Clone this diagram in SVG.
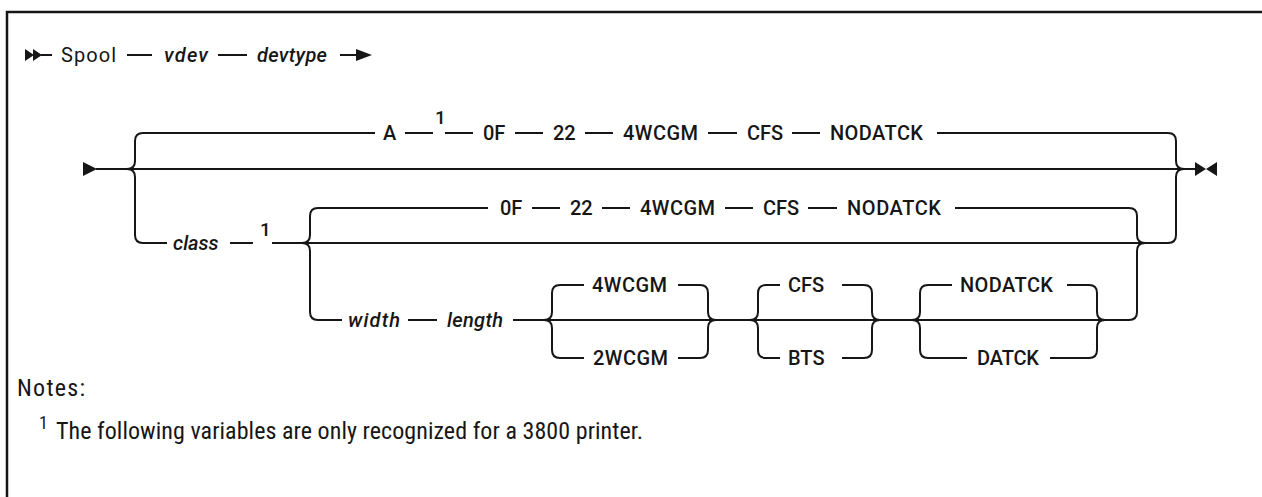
<svg xmlns="http://www.w3.org/2000/svg" width="1262" height="497" viewBox="0 0 1262 497">
<style>
.t{font-family:Roboto,"Liberation Sans",sans-serif;font-size:20px;font-weight:500;fill:#161616}
.i{font-style:italic}
.s{font-family:Roboto,"Liberation Sans",sans-serif;font-size:19px;font-weight:500;fill:#161616}
.n{font-family:"Liberation Sans Narrow","Roboto Condensed","Liberation Sans",sans-serif;font-size:24px;fill:#161616}
.ns{font-family:"Liberation Sans Narrow","Roboto Condensed","Liberation Sans",sans-serif;font-size:18px;fill:#161616}
.l{fill:none;stroke:#161616;stroke-width:2}
.a{fill:#161616}
</style>
<rect width="1262" height="497" fill="#fff"/>
<path d="M7 497 V12 H1262" fill="none" stroke="#161616" stroke-width="2.5"/>
<g id="connectors">
<path class="a" d="M25 49 L34 55 L25 61 Z M33 49 L42 55 L33 61 Z"/>
<path class="l" d="M41 55 H52 M127 55 H152 M218 55 H247 M340 55 H358"/>
<path class="a" d="M356 49 L372 55 L356 61 Z"/>
<path class="a" d="M83 162 L97 169 L83 176 Z"/>
<path class="l" d="M96 169 H1196"/>
<path class="a" d="M1195 162 L1206 169 L1195 176 Z M1217 162 L1206 169 L1217 176 Z"/>
<path class="l" d="M127 169 Q135 169 135 161 V141 Q135 133 143 133 H375 M405 133 H433 M445 133 H473 M515 133 H543 M585 133 H613 M708 133 H737 M792 133 H820 M937 133 H1168 Q1176 133 1176 141 V161 Q1176 169 1184 169"/>
<path class="l" d="M127 169 Q135 169 135 177 V235 Q135 243 143 243 H167 M230 243 H253 M272 243 H1168 Q1176 243 1176 235 V177 Q1176 169 1184 169"/>
<path class="l" d="M302 243 Q310 243 310 235 V216 Q310 208 318 208 H488 M532 208 H560 M602 208 H630 M725 208 H753 M808 208 H837 M955 208 H1129 Q1137 208 1137 216 V235 Q1137 243 1145 243"/>
<path class="l" d="M302 243 Q310 243 310 251 V312 Q310 320 318 320 H342 M408 320 H437 M513 320 H1129 Q1137 320 1137 312 V251 Q1137 243 1145 243"/>
<path class="l" d="M544 320 Q552 320 552 312 V293 Q552 285 560 285 H584 M678 285 H700 Q708 285 708 293 V312 Q708 320 716 320"/>
<path class="l" d="M544 320 Q552 320 552 328 V350 Q552 358 560 358 H584 M678 358 H700 Q708 358 708 350 V328 Q708 320 716 320"/>
<path class="l" d="M750 320 Q758 320 758 312 V293 Q758 285 766 285 H780 M842 285 H864 Q872 285 872 293 V312 Q872 320 880 320"/>
<path class="l" d="M750 320 Q758 320 758 328 V350 Q758 358 766 358 H780 M842 358 H864 Q872 358 872 350 V328 Q872 320 880 320"/>
<path class="l" d="M912 320 Q920 320 920 312 V293 Q920 285 928 285 H952 M1067 285 H1089 Q1097 285 1097 293 V312 Q1097 320 1105 320"/>
<path class="l" d="M912 320 Q920 320 920 328 V350 Q920 358 928 358 H967 M1050 358 H1089 Q1097 358 1097 350 V328 Q1097 320 1105 320"/>
</g>
<g id="line1">
<text class="t" x="61" y="62" textLength="55" style="font-weight:400">Spool</text>
<text class="t i" x="164" y="62" textLength="44">vdev</text>
<text class="t i" x="257" y="62" textLength="70">devtype</text>
</g>
<g id="row-a">
<text class="t" x="383" y="140">A</text>
<text class="s" x="435" y="124">1</text>
<text class="t" x="483" y="140">0F</text>
<text class="t" x="553" y="140">22</text>
<text class="t" x="623" y="140" textLength="75">4WCGM</text>
<text class="t" x="747" y="140">CFS</text>
<text class="t" x="830" y="140" textLength="93">NODATCK</text>
</g>
<g id="row-class">
<text class="t i" x="173" y="250">class</text>
<text class="s" x="260" y="236">1</text>
</g>
<g id="row-default">
<text class="t" x="500" y="215">0F</text>
<text class="t" x="570" y="215">22</text>
<text class="t" x="640" y="215" textLength="75">4WCGM</text>
<text class="t" x="763" y="215">CFS</text>
<text class="t" x="847" y="215" textLength="94">NODATCK</text>
</g>
<g id="row-width">
<text class="t i" x="348" y="327" textLength="52">width</text>
<text class="t i" x="447" y="327" textLength="56">length</text>
</g>
<g id="opt-wcgm">
<text class="t" x="592" y="292" textLength="75">4WCGM</text>
<text class="t" x="593" y="365" textLength="75">2WCGM</text>
</g>
<g id="opt-cfs">
<text class="t" x="788" y="292">CFS</text>
<text class="t" x="788" y="365">BTS</text>
</g>
<g id="opt-datck">
<text class="t" x="960" y="292" textLength="93">NODATCK</text>
<text class="t" x="977" y="365" textLength="62">DATCK</text>
</g>
<g id="notes">
<text class="n" x="17" y="396" textLength="68">Notes:</text>
<text class="ns" x="39" y="429">1</text>
<text class="n" x="56" y="439" textLength="587">The following variables are only recognized for a 3800 printer.</text>
</g>
</svg>
